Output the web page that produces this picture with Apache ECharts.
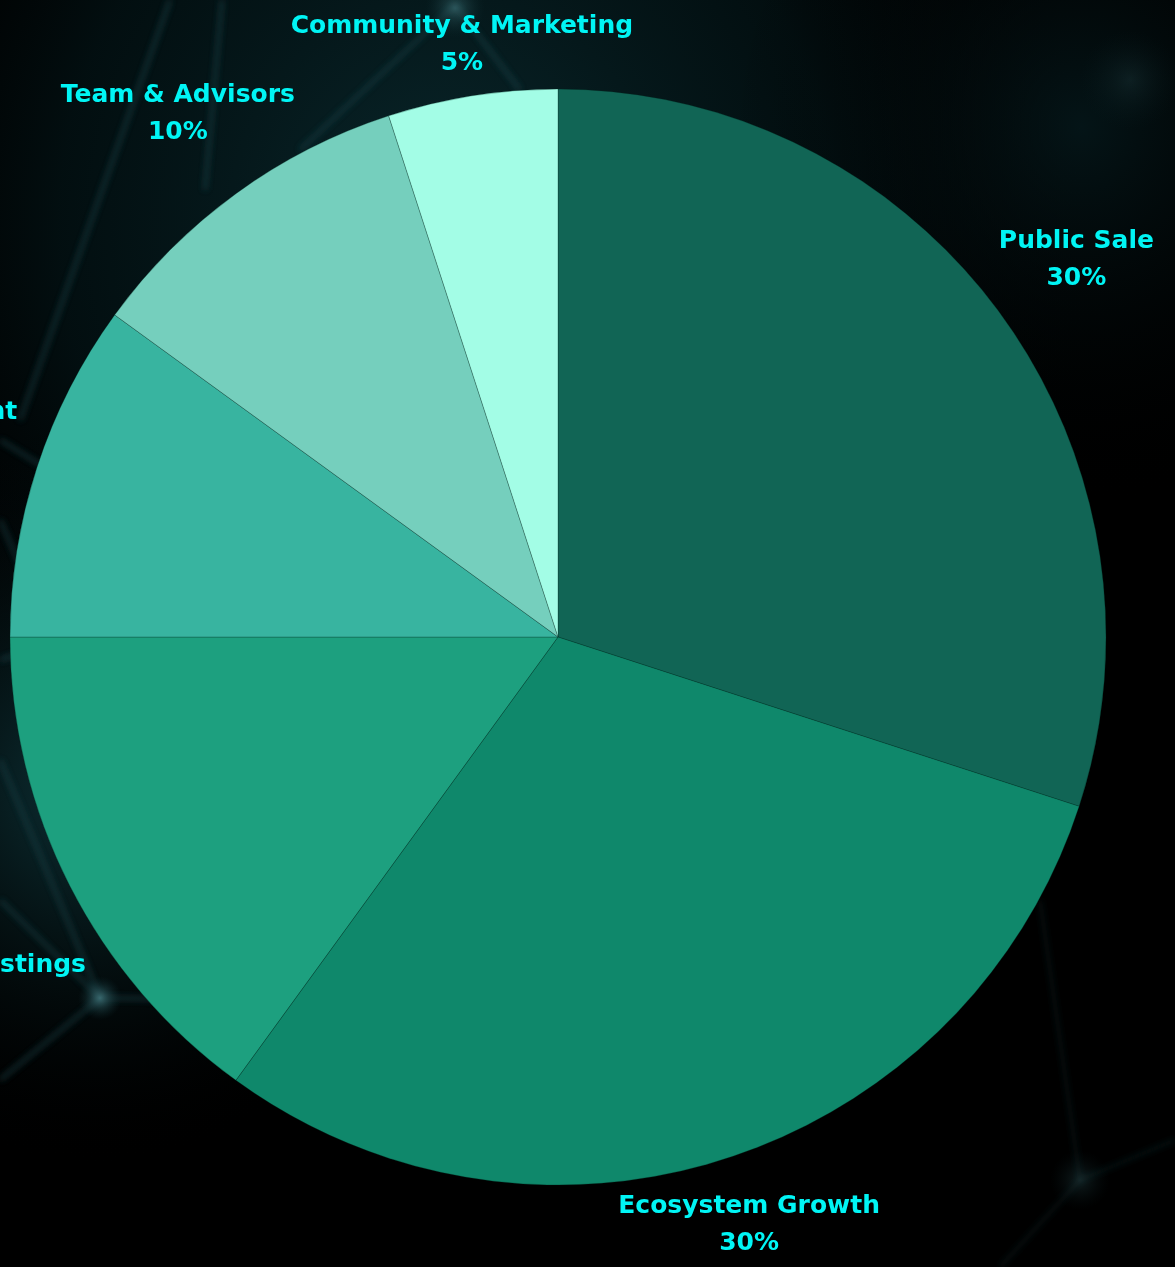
<!DOCTYPE html>
<html>
<head>
<meta charset="utf-8">
<script src="https://cdn.jsdelivr.net/npm/echarts@6/dist/echarts.min.js"></script>
<style>
html,body{margin:0;padding:0;width:1175px;height:1267px;overflow:hidden;background:#000;}
#bg{position:absolute;left:0;top:0;width:1175px;height:1267px;}
#chart{position:absolute;left:0;top:0;width:1175px;height:1267px;}
</style>
</head>
<body>
<svg id="bg" width="1175" height="1267" xmlns="http://www.w3.org/2000/svg">
  <defs>
    <radialGradient id="g1" cx="0.38" cy="0.18" r="0.55">
      <stop offset="0" stop-color="#0a2a2f" stop-opacity="0.95"/>
      <stop offset="0.6" stop-color="#04181b" stop-opacity="0.6"/>
      <stop offset="1" stop-color="#000" stop-opacity="0"/>
    </radialGradient>
    <radialGradient id="g2" cx="0.08" cy="0.62" r="0.3">
      <stop offset="0" stop-color="#0f3a40" stop-opacity="0.9"/>
      <stop offset="1" stop-color="#000" stop-opacity="0"/>
    </radialGradient>
    <radialGradient id="g3" cx="0.92" cy="0.1" r="0.3">
      <stop offset="0" stop-color="#061d21" stop-opacity="0.7"/>
      <stop offset="1" stop-color="#000" stop-opacity="0"/>
    </radialGradient>
    <radialGradient id="node">
      <stop offset="0" stop-color="#3d6f75" stop-opacity="0.9"/>
      <stop offset="1" stop-color="#0b2a2e" stop-opacity="0"/>
    </radialGradient>
    <filter id="blur"><feGaussianBlur stdDeviation="3"/></filter>
  </defs>
  <rect width="1175" height="1267" fill="#000"/>
  <rect width="1175" height="1267" fill="url(#g1)"/>
  <rect width="1175" height="1267" fill="url(#g2)"/>
  <rect width="1175" height="1267" fill="url(#g3)"/>
  <g stroke="#1e4a50" stroke-width="3" filter="url(#blur)" opacity="0.75" fill="none">
    <line x1="170" y1="0" x2="20" y2="420"/>
    <line x1="222" y1="0" x2="205" y2="190"/>
    <line x1="455" y1="5" x2="300" y2="150"/>
    <line x1="455" y1="5" x2="520" y2="90"/>
    <line x1="0" y1="440" x2="130" y2="520"/>
    <line x1="0" y1="520" x2="80" y2="700"/>
    <line x1="0" y1="760" x2="100" y2="998"/>
    <line x1="0" y1="900" x2="100" y2="998"/>
    <line x1="0" y1="1080" x2="100" y2="998"/>
    <line x1="100" y1="998" x2="240" y2="1000"/>
    <line x1="0" y1="660" x2="60" y2="640"/>
  </g>
  <g stroke="#123236" stroke-width="3" filter="url(#blur)" opacity="0.45" fill="none">
    <line x1="1080" y1="1180" x2="1175" y2="1140"/>
    <line x1="1080" y1="1180" x2="1040" y2="900"/>
    <line x1="1080" y1="1180" x2="1000" y2="1267"/>
  </g>
  <circle cx="100" cy="998" r="22" fill="url(#node)"/>
  <circle cx="455" cy="8" r="30" fill="url(#node)" opacity="0.7"/>
  <circle cx="1080" cy="1180" r="30" fill="url(#node)" opacity="0.3"/>
  <circle cx="1130" cy="80" r="50" fill="url(#node)" opacity="0.2"/>
</svg>
<div id="chart"></div>
<script>
const categories = ["Public Sale", "Ecosystem Growth", "Liquidity & Exchange Listings", "Development", "Team & Advisors", "Community & Marketing"];
const values = [30, 30, 15, 10, 10, 5];
const colors = ["#116555", "#0f886b", "#1da07f", "#38b4a0", "#75cfbd", "#a3fde6"];

const CX = 558, CY = 637, R = 548;
const total = values.reduce((a, b) => a + b, 0);
function midAngle(i) {
  let s = 0;
  for (let k = 0; k < i; k++) s += values[k];
  return (s + values[i] / 2) / total * 2 * Math.PI;
}

const chart = echarts.init(document.getElementById('chart'), null, {renderer: 'canvas'});
chart.setOption({
  backgroundColor: 'transparent',
  animation: false,
  series: [{
    type: 'pie',
    center: [CX, CY],
    radius: R,
    startAngle: 90,
    clockwise: true,
    avoidLabelOverlap: false,
    color: colors,
    itemStyle: {borderColor: 'rgba(0,40,30,0.35)', borderWidth: 0.8},
    emphasis: {disabled: true},
    label: {
      show: true,
      position: 'outside',
      formatter: p => p.name + '\n' + p.value + '%',
      color: '#00f5f5',
      fontFamily: 'DejaVu Sans',
      fontWeight: 'bold',
      fontSize: 25,
      lineHeight: 37,
      align: 'center'
    },
    labelLine: {show: false},
    labelLayout: function (p) {
      const a = midAngle(p.dataIndex);
      const ux = Math.sin(a), uy = -Math.cos(a);
      const w = p.labelRect.width, h = p.labelRect.height;
      const d = R + 30 + Math.max(Math.abs(ux) * w / 2, Math.abs(uy) * h / 2);
      let x = CX + d * ux, y = CY + d * uy;
      y = Math.max(y, h / 2 + 8);
      return {x: x, y: y, align: 'center', verticalAlign: 'middle'};
    },
    data: categories.map((c, i) => ({name: c, value: values[i]}))
  }]
});
</script>
</body>
</html>
